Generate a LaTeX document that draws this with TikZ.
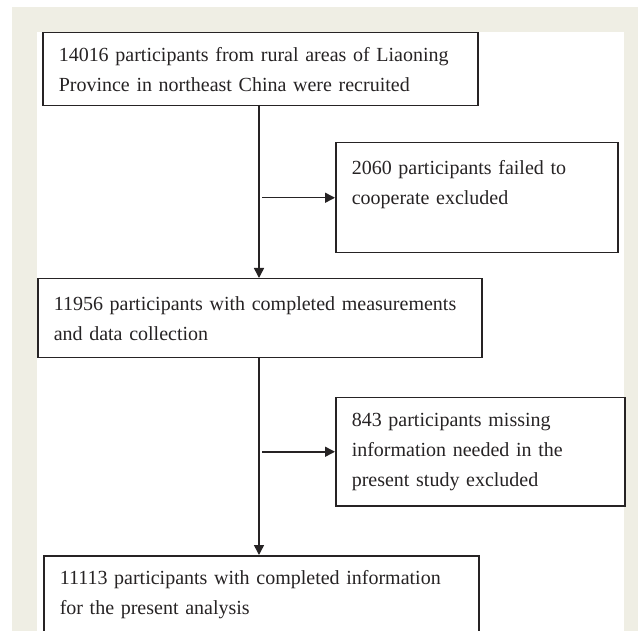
\documentclass[tikz,border=0pt]{standalone}
\usepackage{fontspec}
\setmainfont{Liberation Serif}
\usetikzlibrary{arrows.meta}
\definecolor{beige}{HTML}{EFEEE4}
\definecolor{ink}{HTML}{262324}
\begin{document}
\begin{tikzpicture}[x=1pt,y=1pt,
  box/.style={draw=ink, line width=1.5pt, rectangle, anchor=north west, align=left,
    inner xsep=16pt, inner ysep=0pt, text=ink,
    font=\fontsize{20}{30}\selectfont},
  arr/.style={draw=ink, line width=1.5pt, -{Triangle[length=10pt,width=10pt]}}]
\useasboundingbox (0,0) rectangle (638,-631);
\clip (0,0) rectangle (638,-631);
\fill[beige] (12,-7) rectangle (638,-631);
\fill[white] (37,-32) rectangle (624,-631);
\node[box, text width=403pt, minimum height=73pt] (b1) at (42,-32)
  {14016 participants from rural areas of Liaoning\\Province in northeast China were recruited};
\node[box, text width=250pt, minimum height=110pt] (b2) at (335,-142)
  {2060 participants failed to\\cooperate excluded\\\mbox{}};
\node[box, text width=412pt, minimum height=79pt] (b3) at (37,-278)
  {11956 participants with completed measurements\\and data collection};
\node[box, text width=257pt, minimum height=108pt] (b4) at (335,-397)
  {843 participants missing\\information needed in the\\present study excluded};
\node[box, text width=403pt, minimum height=78pt] (b5) at (43,-555)
  {11113 participants with completed information\\for the present analysis};
\coordinate (v1) at (259,-105);
\draw[arr] (v1) -- (v1 |- b3.north);
\coordinate (v2) at (259,-357);
\draw[arr] (v2) -- (v2 |- b5.north);
\draw[arr] ([xshift=3pt]v1 |- b2.west) -- (b2.west);
\draw[arr] ([xshift=3pt]v2 |- b4.west) -- (b4.west);
\end{tikzpicture}
\end{document}
